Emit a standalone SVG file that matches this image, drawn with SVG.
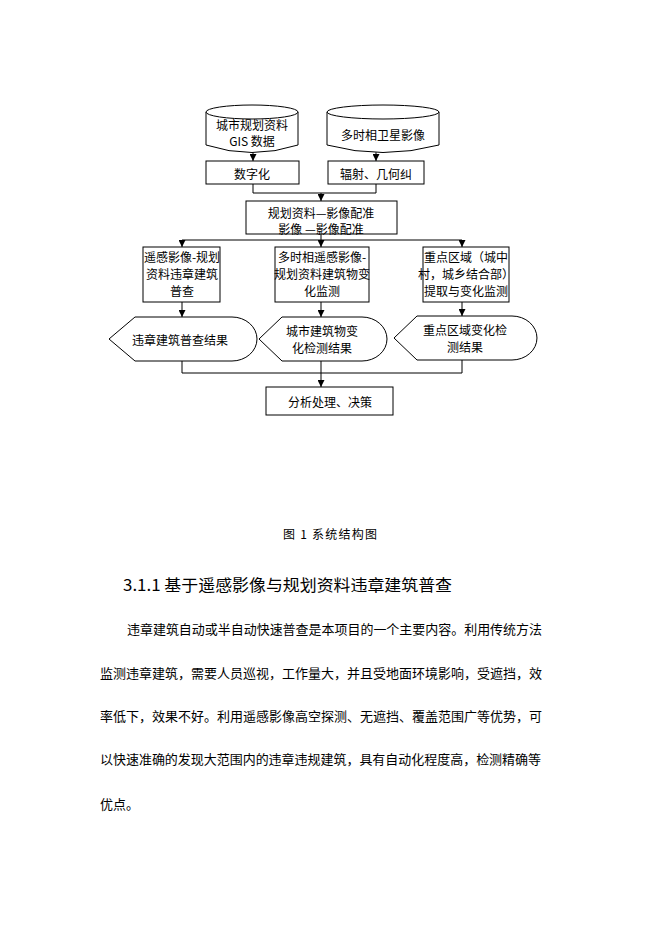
<svg xmlns="http://www.w3.org/2000/svg" width="662" height="936" viewBox="0 0 662 936">
<defs>
<marker id="ah" viewBox="0 0 8 8" refX="8" refY="4" markerWidth="7" markerHeight="7" markerUnits="userSpaceOnUse" orient="auto">
<path d="M0,0 L8,4 L0,8 z" fill="#000"/>
</marker>
</defs>
<style>
.s{fill:#fff;stroke:#000;stroke-width:1}
.c{fill:none;stroke:#000;stroke-width:1}
.a{fill:none;stroke:#000;stroke-width:1;marker-end:url(#ah)}
text{font-family:"Noto Sans CJK SC","Noto Sans",sans-serif;fill:#000}
.t{font-size:12px;text-anchor:middle;dominant-baseline:central}
.body{font-size:13px;dominant-baseline:central}
</style>
<rect width="662" height="936" fill="#fff"/>

<g id="connectors">
<line class="a" x1="253" y1="152" x2="253" y2="161"/>
<line class="a" x1="376" y1="152" x2="376" y2="161"/>
<polyline class="c" points="253,184 253,193 376,193 376,184"/>
<line class="a" x1="321" y1="193" x2="321" y2="201"/>
<line class="c" x1="321" y1="234" x2="321" y2="240"/>
<line class="c" x1="182" y1="240" x2="462" y2="240"/>
<line class="a" x1="182" y1="240" x2="182" y2="247"/>
<line class="a" x1="321" y1="240" x2="321" y2="247"/>
<line class="a" x1="462" y1="240" x2="462" y2="247"/>
<line class="a" x1="182" y1="302" x2="182" y2="317"/>
<line class="a" x1="321" y1="302" x2="321" y2="317"/>
<line class="a" x1="462" y1="302" x2="462" y2="316"/>
<polyline class="c" points="182,361 182,373 462,373 462,360"/>
<line class="a" x1="321" y1="361" x2="321" y2="387"/>
</g>

<g id="n_gis">
<path class="s" d="M206,112 L206,145 Q252,160 298,145 L298,112"/>
<ellipse class="s" cx="252" cy="112" rx="46" ry="7"/>
<text class="t" x="252" y="124">城市规划资料</text>
<text class="t" x="252" y="140">GIS 数据</text>
</g>

<g id="n_sat">
<path class="s" d="M327,112 L327,145 Q383,160 439,145 L439,112"/>
<ellipse class="s" cx="383" cy="112" rx="56" ry="7"/>
<text class="t" x="383" y="134">多时相卫星影像</text>
</g>

<g id="n_digit">
<rect class="s" x="206" y="161" width="93" height="23"/>
<text class="t" x="252" y="173">数字化</text>
</g>

<g id="n_rad">
<rect class="s" x="328" y="161" width="96" height="23"/>
<text class="t" x="376" y="173">辐射、几何纠</text>
</g>

<g id="n_reg">
<rect class="s" x="246" y="201" width="151" height="33"/>
<text class="t" x="321" y="212">规划资料—影像配准</text>
<text class="t" x="321" y="228">影像 —影像配准</text>
</g>

<g id="n_a">
<rect class="s" x="143" y="247" width="77" height="55"/>
<text class="t" x="182" y="256">遥感影像-规划</text>
<text class="t" x="182" y="273">资料违章建筑</text>
<text class="t" x="182" y="290">普查</text>
</g>

<g id="n_b">
<rect class="s" x="275" y="247" width="94" height="55"/>
<text class="t" x="322" y="256">多时相遥感影像-</text>
<text class="t" x="322" y="273">规划资料建筑物变</text>
<text class="t" x="322" y="290">化监测</text>
</g>

<g id="n_c">
<rect class="s" x="423" y="247" width="86" height="55"/>
<text class="t" x="466" y="256">重点区域（城中</text>
<text class="t" x="466" y="273">村，城乡结合部）</text>
<text class="t" x="466" y="290">提取与变化监测</text>
</g>

<g id="n_ra">
<path class="s" d="M109,339 L135,317 L232,317 A25,22 0 0 1 232,361 L135,361 Z"/>
<text class="t" x="180" y="339">违章建筑普查结果</text>
</g>

<g id="n_rb">
<path class="s" d="M259,339 L282,317 L362,317 A25,22 0 0 1 362,361 L282,361 Z"/>
<text class="t" x="322" y="330">城市建筑物变</text>
<text class="t" x="322" y="347">化检测结果</text>
</g>

<g id="n_rc">
<path class="s" d="M394,338 L417,316 L512,316 A25,22 0 0 1 512,360 L417,360 Z"/>
<text class="t" x="465" y="329">重点区域变化检</text>
<text class="t" x="465" y="346">测结果</text>
</g>

<g id="n_dec">
<rect class="s" x="266" y="387" width="127" height="28"/>
<text class="t" x="330" y="401">分析处理、决策</text>
</g>

<text x="283" y="533" style="font-size:12px;dominant-baseline:central" textLength="94" lengthAdjust="spacing">图 1 系统结构图</text>
<text x="123" y="584" style="font-size:16px;dominant-baseline:central" textLength="329" lengthAdjust="spacingAndGlyphs">3.1.1 基于遥感影像与规划资料违章建筑普查</text>
<text class="body" x="127" y="628" textLength="415" lengthAdjust="spacingAndGlyphs">违章建筑自动或半自动快速普查是本项目的一个主要内容。利用传统方法</text>
<text class="body" x="100" y="672" textLength="442" lengthAdjust="spacingAndGlyphs">监测违章建筑，需要人员巡视，工作量大，并且受地面环境影响，受遮挡，效</text>
<text class="body" x="100" y="715" textLength="442" lengthAdjust="spacingAndGlyphs">率低下，效果不好。利用遥感影像高空探测、无遮挡、覆盖范围广等优势，可</text>
<text class="body" x="100" y="758" textLength="441" lengthAdjust="spacingAndGlyphs">以快速准确的发现大范围内的违章违规建筑，具有自动化程度高，检测精确等</text>
<text class="body" x="100" y="803">优点。</text>
</svg>
